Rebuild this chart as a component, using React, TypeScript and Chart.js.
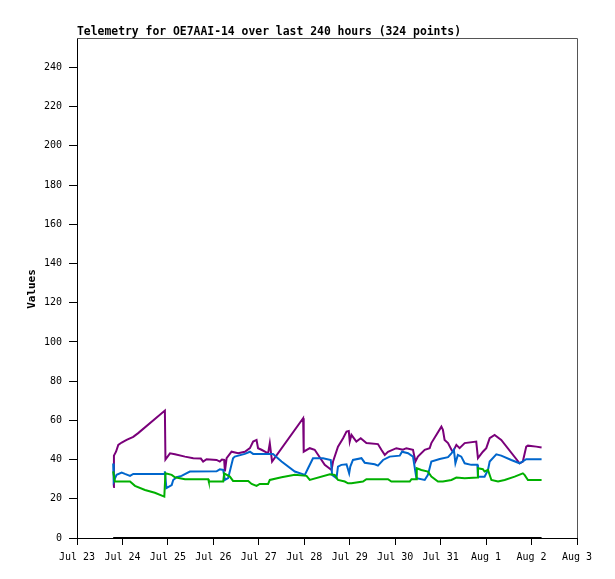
import React, { useEffect, useRef } from "react";
import { Chart, registerables } from "chart.js";

Chart.register(...registerables);

// hours since Jul 23 00:00
const dayLabels = ["Jul 23", "Jul 24", "Jul 25", "Jul 26", "Jul 27", "Jul 28", "Jul 29", "Jul 30", "Jul 31", "Aug 1", "Aug 2", "Aug 3"];
const yTicks = [0, 20, 40, 60, 80, 100, 120, 140, 160, 180, 200, 220, 240];

const purpleTimes = [19.1, 19.5, 20.6, 21.8, 23.6, 26.2, 29.7, 32.3, 46.4, 46.7, 49.1, 51.7, 57.0, 61.4, 65.4, 66.6, 68.4, 73.7, 75.4, 76.5, 77.7, 78.1, 79.0, 81.6, 85.1, 88.6, 91.3, 93.0, 94.8, 95.6, 97.4, 100.9, 101.8, 103.0, 119.4, 119.7, 122.9, 125.5, 130.8, 134.4, 135.2, 137.8, 140.5, 142.3, 143.5, 144.0, 144.9, 147.5, 149.8, 152.8, 158.9, 160.7, 162.5, 164.2, 168.6, 172.1, 173.9, 177.4, 178.7, 180.0, 183.6, 186.2, 187.1, 192.4, 193.2, 194.1, 195.9, 197.7, 198.5, 200.3, 202.0, 204.7, 210.8, 211.7, 214.3, 216.1, 217.9, 220.5, 224.0, 233.7, 235.4, 237.2, 238.1, 242.5, 245.3];
const purpleValues = [26, 42, 44, 47.5, 48.7, 50, 51.6, 53.5, 65, 40, 43.2, 42.7, 41.5, 40.7, 40.5, 39, 40.2, 39.8, 39, 40, 39.8, 34, 40.7, 44, 43.2, 44, 45.8, 49.2, 50, 45.8, 45, 43.2, 48.4, 39, 61.1, 44, 45.8, 45, 37.3, 34.7, 39, 46.6, 50.9, 54.3, 54.6, 49.2, 52.6, 49.2, 50.9, 48.4, 47.9, 45, 42.4, 44, 45.8, 45, 45.8, 45, 39, 41.5, 45, 45.8, 48.4, 56.8, 55.2, 50, 48.4, 45, 44, 47.5, 45.8, 48.4, 49.2, 40.7, 44, 45.8, 50.9, 52.6, 50, 38.1, 39, 46.6, 47.1, 46.6, 46.1];

const blueTimes = [19.1, 19.4, 20.9, 23.6, 25.3, 28.0, 29.7, 46.1, 46.4, 47.2, 50.0, 50.8, 52.6, 55.2, 59.6, 73.7, 75.4, 77.2, 78.1, 79.8, 82.4, 83.3, 88.6, 91.3, 93.0, 103.5, 108.0, 115.0, 120.3, 122.0, 124.6, 129.9, 134.0, 134.7, 137.0, 137.8, 139.6, 142.3, 143.7, 144.3, 145.7, 150.2, 151.9, 157.2, 158.9, 161.6, 165.1, 170.4, 171.6, 174.8, 177.4, 179.2, 183.6, 185.3, 187.1, 191.5, 195.9, 197.7, 199.0, 199.8, 201.1, 202.9, 204.7, 208.2, 211.4, 211.7, 215.2, 217.0, 217.9, 221.4, 224.0, 229.3, 233.7, 237.2, 245.3];
const blueValues = [38, 29, 32.2, 33.4, 32.7, 31.7, 32.7, 32.7, 34, 25.4, 27, 29.6, 31, 31.7, 33.9, 34, 35, 34.7, 29.6, 30.5, 40.7, 41.5, 42.9, 44, 42.9, 42.9, 39, 33.9, 32.2, 35.6, 40.7, 40.7, 39.8, 32.2, 30.5, 36.4, 37.3, 37.6, 33, 36.4, 39.8, 40.7, 38.4, 37.6, 36.9, 39.8, 41.5, 42, 44, 43.2, 41.5, 30.5, 29.6, 32.2, 39, 40.3, 41.2, 43.2, 45, 38.1, 42.4, 41.5, 38.1, 37.3, 37.3, 31.3, 31.3, 34.7, 39, 42.7, 42, 39.8, 38.1, 40.2, 40.2];

const greenTimes = [19.1, 20.0, 28.0, 30.6, 35.9, 41.1, 46.1, 46.7, 50.0, 51.7, 57.0, 69.3, 69.6, 77.2, 77.7, 80.7, 82.4, 90.4, 92.2, 94.8, 96.5, 100.9, 101.8, 108.0, 115.0, 121.2, 122.9, 133.5, 136.1, 137.8, 141.4, 143.1, 144.9, 151.0, 152.8, 164.2, 166.0, 175.7, 176.6, 179.2, 179.4, 181.8, 185.3, 187.1, 190.6, 193.2, 197.7, 200.3, 204.7, 211.4, 211.7, 214.3, 215.2, 217.0, 218.8, 222.3, 225.8, 231.1, 235.4, 236.3, 238.1, 245.3];
const greenValues = [34, 28.8, 28.8, 26.6, 24.5, 23.1, 21.1, 33, 32.2, 31, 30, 30, 28.8, 28.8, 33, 31.3, 29.1, 29.1, 27.6, 26.6, 27.6, 27.6, 29.6, 31, 32.2, 31.7, 29.6, 32.5, 32.2, 29.6, 28.8, 27.9, 27.9, 28.8, 30, 30, 28.8, 28.8, 30, 30, 35.6, 34.7, 33.9, 31.3, 28.8, 28.8, 29.6, 30.8, 30.5, 30.8, 35.6, 35.1, 33.9, 34.7, 29.6, 28.8, 29.6, 31.3, 33, 32.2, 29.6, 29.6];

const blackTimes = [19.1, 245.3];
const blackValues = [0, 0];

const toPoints = (t: number[], v: number[]) => t.map((x, i) => ({ x, y: v[i] }));

const titleText = "Telemetry for OE7AAI-14 over last 240 hours (324 points)";
const mono = "'DejaVu Sans Mono', monospace";

const framePlugin = {
  id: "frame",
  afterDraw(chart: any) {
    const { ctx, chartArea } = chart;
    ctx.save();
    ctx.strokeStyle = "#555555";
    ctx.lineWidth = 1;
    ctx.beginPath();
    ctx.moveTo(chartArea.left, chartArea.top + 0.5);
    ctx.lineTo(chartArea.right + 0.5, chartArea.top + 0.5);
    ctx.lineTo(chartArea.right + 0.5, chartArea.bottom);
    ctx.stroke();
    ctx.fillStyle = "#000";
    ctx.font = `bold 11.4px ${mono}`;
    ctx.textBaseline = "alphabetic";
    ctx.textAlign = "left";
    ctx.fillText(titleText, chartArea.left, 35);
    ctx.translate(32, 289);
    ctx.rotate(-Math.PI / 2);
    ctx.textAlign = "center";
    ctx.textBaseline = "middle";
    ctx.font = `bold 11px ${mono}`;
    ctx.fillText("Values", 0, 0);
    ctx.restore();
  },
};

const App: React.FC = () => {
  const canvasRef = useRef<HTMLCanvasElement | null>(null);
  const chartRef = useRef<Chart | null>(null);

  useEffect(() => {
    if (!canvasRef.current) return;
    const ctx = canvasRef.current.getContext("2d");
    if (!ctx) return;
    if (chartRef.current) chartRef.current.destroy();

    const line = (label: string, t: number[], v: number[], color: string, extra: any = {}) => ({
      label,
      data: toPoints(t, v),
      borderColor: color,
      backgroundColor: color,
      borderWidth: 2,
      pointRadius: 0,
      tension: 0,
      fill: false,
      ...extra,
    });

    chartRef.current = new Chart(ctx, {
      type: "line",
      data: {
        datasets: [
          line("ch4", blackTimes, blackValues, "#000000", { clip: false }),
          line("ch3", greenTimes, greenValues, "#00b000"),
          line("ch2", blueTimes, blueValues, "#0066cc"),
          line("ch1", purpleTimes, purpleValues, "#7a007a"),
        ],
      },
      options: {
        responsive: false,
        animation: false,
        layout: { padding: { top: 38, right: 38, left: 0, bottom: 0 } },
        plugins: {
          legend: { display: false },
          tooltip: { enabled: false },
          title: { display: false },
        },
        scales: {
          x: {
            type: "linear",
            min: 0,
            max: 264,
            afterFit: (scale: any) => {
              scale.height = 41;
            },
            afterBuildTicks: (scale: any) => {
              scale.ticks = dayLabels.map((_, i) => ({ value: i * 24 }));
            },
            grid: { drawOnChartArea: false, drawTicks: true, tickLength: 7, color: "#000", lineWidth: 1 },
            border: { display: true, color: "#000", width: 1 },
            ticks: {
              color: "#000",
              padding: 6,
              maxRotation: 0,
              autoSkip: false,
              font: { family: mono, size: 10 },
              callback: (value: any) => dayLabels[Math.round(Number(value) / 24)] ?? "",
            },
          },
          y: {
            type: "linear",
            min: 0,
            max: 255,
            afterFit: (scale: any) => {
              scale.width = 77;
            },
            afterBuildTicks: (scale: any) => {
              scale.ticks = yTicks.map((v) => ({ value: v }));
            },
            grid: { drawOnChartArea: false, drawTicks: true, tickLength: 8, color: "#000", lineWidth: 1 },
            border: { display: true, color: "#000", width: 1 },
            ticks: {
              color: "#000",
              padding: 7,
              autoSkip: false,
              font: { family: mono, size: 10 },
            },
          },
        },
      },
      plugins: [framePlugin],
    });

    return () => {
      if (chartRef.current) {
        chartRef.current.destroy();
        chartRef.current = null;
      }
    };
  }, []);

  return (
    <div style={{ position: "absolute", left: 0, top: 0, width: 615, height: 579, background: "#fff" }}>
      <canvas ref={canvasRef} width={615} height={579}></canvas>
    </div>
  );
};

export default App;
